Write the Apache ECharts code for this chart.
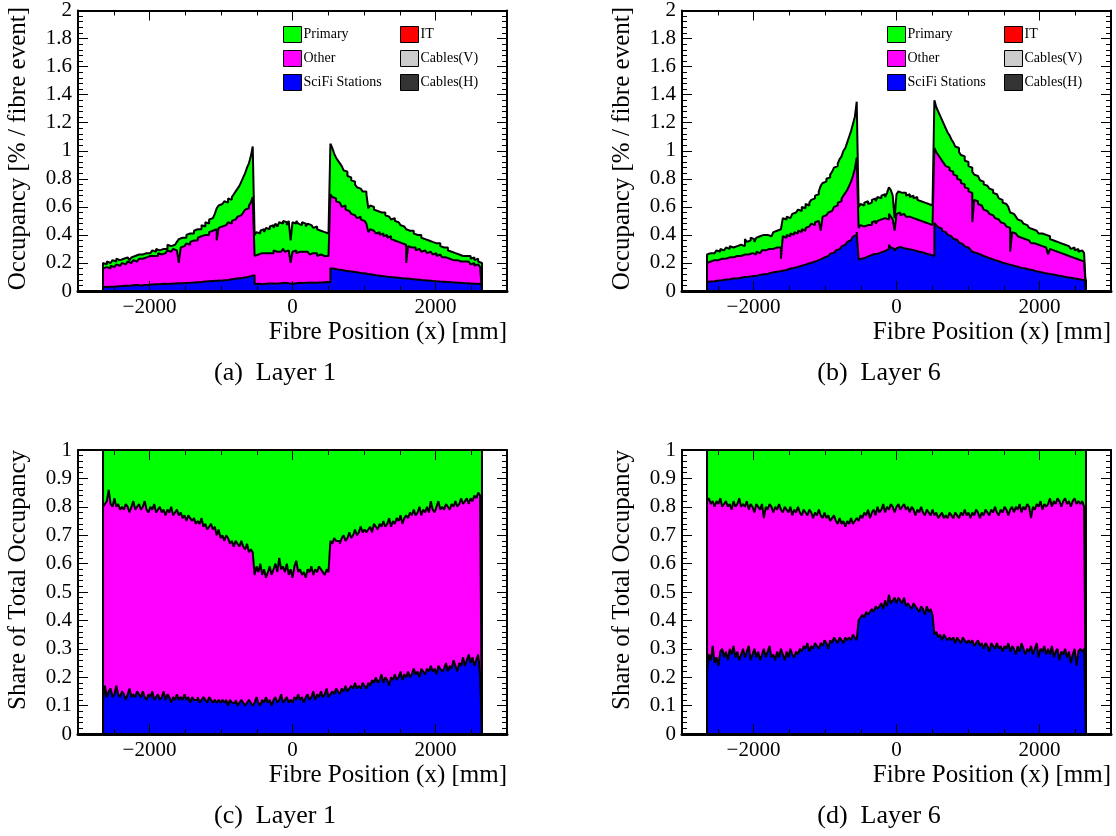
<!DOCTYPE html>
<html>
<head>
<meta charset="utf-8">
<title>Fibre occupancy by source</title>
<script src="https://cdn.jsdelivr.net/npm/echarts@6/dist/echarts.min.js"></script>
<style>
  html, body { margin: 0; padding: 0; background: #fff; }
  #chart { width: 1116px; height: 836px; }
</style>
</head>
<body>
<div id="chart"></div>
<script>
// histograms: 200 bins of 26.5 mm, from -2650 mm to +2650 mm
const binLow = -2650
const binHigh = 2650
const binWidth = 26.5

const xMajorTicks = [-2000, 0, 2000]

// stacked levels (top edge of each band)
// (a) Layer 1, occupancy [% / fibre event]
const occL1SciFi = [
  0.030, 0.028, 0.031, 0.030, 0.032, 0.031, 0.034, 0.033, 0.035, 0.036, 0.035, 0.037, 0.039, 0.038, 0.040, 0.041, 0.040, 0.042, 0.041, 0.040,
  0.042, 0.043, 0.045, 0.044, 0.044, 0.046, 0.046, 0.048, 0.050, 0.049, 0.049, 0.051, 0.051, 0.050, 0.050, 0.052, 0.055, 0.054, 0.054, 0.056,
  0.056, 0.055, 0.055, 0.057, 0.060, 0.058, 0.059, 0.060, 0.061, 0.063, 0.065, 0.064, 0.066, 0.067, 0.070, 0.069, 0.069, 0.071, 0.072, 0.073,
  0.075, 0.074, 0.076, 0.077, 0.080, 0.079, 0.084, 0.083, 0.086, 0.087, 0.090, 0.091, 0.095, 0.094, 0.100, 0.099, 0.104, 0.106, 0.110, 0.112,
  0.050, 0.052, 0.046, 0.048, 0.050, 0.051, 0.052, 0.054, 0.055, 0.053, 0.050, 0.052, 0.056, 0.055, 0.060, 0.058, 0.055, 0.056, 0.050, 0.052,
  0.055, 0.056, 0.060, 0.058, 0.056, 0.057, 0.060, 0.059, 0.061, 0.060, 0.056, 0.058, 0.060, 0.061, 0.062, 0.060, 0.065, 0.064, 0.060, 0.062,
  0.162, 0.158, 0.155, 0.153, 0.150, 0.149, 0.146, 0.144, 0.140, 0.141, 0.136, 0.137, 0.134, 0.133, 0.130, 0.129, 0.125, 0.126, 0.120, 0.121,
  0.115, 0.117, 0.110, 0.112, 0.111, 0.109, 0.105, 0.106, 0.104, 0.102, 0.100, 0.099, 0.096, 0.097, 0.095, 0.094, 0.090, 0.091, 0.091, 0.089,
  0.085, 0.087, 0.086, 0.084, 0.080, 0.082, 0.081, 0.079, 0.075, 0.077, 0.076, 0.074, 0.070, 0.072, 0.071, 0.069, 0.066, 0.067, 0.065, 0.066,
  0.065, 0.064, 0.061, 0.062, 0.060, 0.061, 0.060, 0.059, 0.056, 0.057, 0.055, 0.056, 0.055, 0.054, 0.051, 0.052, 0.050, 0.051, 0.050, 0.048
]
const occL1Other = [
  0.16, 0.17, 0.17, 0.16, 0.18, 0.17, 0.18, 0.19, 0.18, 0.19, 0.20, 0.19, 0.20, 0.21, 0.20, 0.21, 0.22, 0.21, 0.22, 0.23,
  0.23, 0.22, 0.24, 0.23, 0.25, 0.24, 0.25, 0.26, 0.25, 0.27, 0.26, 0.27, 0.27, 0.28, 0.29, 0.28, 0.29, 0.30, 0.29, 0.30,
  0.20, 0.31, 0.32, 0.33, 0.34, 0.33, 0.35, 0.36, 0.37, 0.36, 0.38, 0.39, 0.38, 0.40, 0.41, 0.40, 0.42, 0.43, 0.42, 0.44,
  0.36, 0.45, 0.46, 0.45, 0.47, 0.48, 0.49, 0.48, 0.50, 0.51, 0.52, 0.53, 0.54, 0.55, 0.56, 0.58, 0.59, 0.61, 0.63, 0.67,
  0.25, 0.26, 0.25, 0.27, 0.26, 0.27, 0.28, 0.27, 0.28, 0.27, 0.29, 0.28, 0.29, 0.28, 0.29, 0.30, 0.28, 0.29, 0.28, 0.20,
  0.28, 0.29, 0.27, 0.28, 0.29, 0.28, 0.27, 0.28, 0.27, 0.26, 0.27, 0.26, 0.27, 0.25, 0.26, 0.25, 0.25, 0.24, 0.25, 0.24,
  0.69, 0.67, 0.66, 0.64, 0.63, 0.62, 0.60, 0.61, 0.58, 0.57, 0.56, 0.55, 0.54, 0.55, 0.52, 0.53, 0.51, 0.50, 0.49, 0.48,
  0.42, 0.44, 0.43, 0.42, 0.41, 0.42, 0.40, 0.41, 0.39, 0.40, 0.38, 0.39, 0.37, 0.36, 0.36, 0.35, 0.35, 0.34, 0.34, 0.33,
  0.20, 0.32, 0.31, 0.30, 0.31, 0.29, 0.30, 0.29, 0.28, 0.29, 0.28, 0.27, 0.28, 0.27, 0.26, 0.27, 0.25, 0.26, 0.25, 0.24,
  0.24, 0.25, 0.23, 0.24, 0.22, 0.23, 0.22, 0.23, 0.21, 0.22, 0.21, 0.20, 0.21, 0.20, 0.19, 0.20, 0.18, 0.19, 0.18, 0.17
]
const occL1Primary = [
  0.20, 0.19, 0.21, 0.20, 0.21, 0.22, 0.21, 0.23, 0.22, 0.21, 0.23, 0.22, 0.24, 0.23, 0.22, 0.24, 0.25, 0.24, 0.26, 0.25,
  0.26, 0.25, 0.27, 0.28, 0.27, 0.26, 0.29, 0.28, 0.30, 0.29, 0.28, 0.30, 0.31, 0.30, 0.33, 0.32, 0.31, 0.33, 0.34, 0.35,
  0.37, 0.38, 0.39, 0.38, 0.40, 0.41, 0.42, 0.41, 0.43, 0.44, 0.45, 0.44, 0.47, 0.46, 0.49, 0.48, 0.51, 0.52, 0.53, 0.55,
  0.59, 0.61, 0.62, 0.61, 0.64, 0.63, 0.66, 0.65, 0.67, 0.69, 0.71, 0.73, 0.75, 0.78, 0.81, 0.84, 0.88, 0.91, 0.96, 1.03,
  0.40, 0.42, 0.41, 0.43, 0.44, 0.42, 0.45, 0.44, 0.46, 0.47, 0.45, 0.48, 0.46, 0.49, 0.48, 0.50, 0.49, 0.47, 0.50, 0.36,
  0.49, 0.48, 0.50, 0.48, 0.47, 0.49, 0.48, 0.46, 0.48, 0.47, 0.46, 0.45, 0.46, 0.44, 0.43, 0.44, 0.42, 0.43, 0.41, 0.40,
  1.05, 1.02, 0.98, 0.95, 0.93, 0.91, 0.89, 0.86, 0.85, 0.82, 0.81, 0.79, 0.78, 0.76, 0.74, 0.73, 0.73, 0.71, 0.71, 0.69,
  0.59, 0.61, 0.60, 0.58, 0.57, 0.58, 0.56, 0.55, 0.56, 0.54, 0.53, 0.52, 0.51, 0.52, 0.50, 0.49, 0.48, 0.47, 0.46, 0.45,
  0.44, 0.43, 0.42, 0.43, 0.41, 0.40, 0.39, 0.40, 0.38, 0.37, 0.37, 0.36, 0.36, 0.35, 0.35, 0.34, 0.33, 0.34, 0.32, 0.31,
  0.30, 0.31, 0.29, 0.28, 0.29, 0.27, 0.28, 0.26, 0.27, 0.25, 0.26, 0.25, 0.24, 0.25, 0.23, 0.24, 0.22, 0.23, 0.21, 0.20
]

// (b) Layer 6, occupancy [% / fibre event]
const occL6SciFi = [
  0.065, 0.068, 0.070, 0.069, 0.073, 0.075, 0.078, 0.077, 0.080, 0.082, 0.085, 0.084, 0.088, 0.090, 0.091, 0.089, 0.093, 0.095, 0.098, 0.100,
  0.100, 0.102, 0.104, 0.106, 0.110, 0.108, 0.113, 0.115, 0.118, 0.120, 0.124, 0.122, 0.128, 0.130, 0.133, 0.135, 0.138, 0.140, 0.143, 0.145,
  0.152, 0.150, 0.158, 0.160, 0.163, 0.165, 0.168, 0.172, 0.175, 0.180, 0.185, 0.188, 0.193, 0.198, 0.203, 0.205, 0.210, 0.215, 0.222, 0.226,
  0.235, 0.240, 0.246, 0.250, 0.258, 0.265, 0.272, 0.280, 0.290, 0.298, 0.310, 0.318, 0.330, 0.338, 0.350, 0.362, 0.375, 0.388, 0.400, 0.420,
  0.225, 0.232, 0.238, 0.240, 0.248, 0.252, 0.258, 0.262, 0.268, 0.265, 0.272, 0.275, 0.280, 0.285, 0.295, 0.300, 0.330, 0.310, 0.300, 0.285,
  0.305, 0.315, 0.310, 0.305, 0.302, 0.300, 0.296, 0.295, 0.290, 0.288, 0.282, 0.280, 0.278, 0.275, 0.270, 0.266, 0.262, 0.258, 0.252, 0.250,
  0.485, 0.470, 0.455, 0.445, 0.430, 0.420, 0.410, 0.400, 0.390, 0.382, 0.372, 0.365, 0.352, 0.345, 0.335, 0.328, 0.318, 0.310, 0.302, 0.295,
  0.280, 0.272, 0.265, 0.262, 0.255, 0.250, 0.245, 0.240, 0.235, 0.230, 0.225, 0.220, 0.215, 0.212, 0.206, 0.202, 0.198, 0.195, 0.192, 0.188,
  0.182, 0.180, 0.176, 0.173, 0.168, 0.165, 0.162, 0.160, 0.157, 0.154, 0.152, 0.149, 0.143, 0.140, 0.137, 0.135, 0.132, 0.129, 0.126, 0.124,
  0.121, 0.119, 0.116, 0.114, 0.111, 0.108, 0.106, 0.103, 0.100, 0.098, 0.096, 0.094, 0.091, 0.089, 0.087, 0.085, 0.083, 0.081, 0.080, 0.078
]
const occL6Other = [
  0.20, 0.21, 0.21, 0.22, 0.21, 0.22, 0.22, 0.23, 0.22, 0.23, 0.23, 0.24, 0.23, 0.24, 0.24, 0.25, 0.24, 0.25, 0.25, 0.26,
  0.25, 0.26, 0.26, 0.27, 0.27, 0.26, 0.28, 0.27, 0.28, 0.29, 0.29, 0.28, 0.30, 0.29, 0.30, 0.31, 0.31, 0.30, 0.31, 0.23,
  0.39, 0.38, 0.40, 0.39, 0.41, 0.40, 0.42, 0.41, 0.43, 0.42, 0.44, 0.43, 0.45, 0.46, 0.46, 0.48, 0.47, 0.49, 0.50, 0.51,
  0.43, 0.53, 0.54, 0.55, 0.56, 0.57, 0.58, 0.60, 0.61, 0.63, 0.64, 0.66, 0.68, 0.70, 0.72, 0.75, 0.78, 0.82, 0.87, 0.95,
  0.45, 0.47, 0.46, 0.45, 0.47, 0.48, 0.47, 0.49, 0.50, 0.48, 0.50, 0.51, 0.50, 0.52, 0.53, 0.51, 0.55, 0.53, 0.51, 0.43,
  0.55, 0.56, 0.54, 0.55, 0.54, 0.53, 0.53, 0.52, 0.52, 0.51, 0.51, 0.50, 0.50, 0.49, 0.49, 0.48, 0.48, 0.47, 0.47, 0.46,
  1.02, 0.99, 0.97, 0.95, 0.93, 0.91, 0.89, 0.88, 0.86, 0.85, 0.83, 0.82, 0.80, 0.79, 0.77, 0.76, 0.74, 0.73, 0.71, 0.70,
  0.49, 0.65, 0.64, 0.62, 0.61, 0.60, 0.58, 0.57, 0.56, 0.55, 0.54, 0.53, 0.52, 0.51, 0.50, 0.49, 0.48, 0.47, 0.46, 0.45,
  0.28, 0.42, 0.41, 0.40, 0.39, 0.38, 0.38, 0.37, 0.36, 0.36, 0.35, 0.34, 0.34, 0.33, 0.33, 0.32, 0.32, 0.31, 0.31, 0.30,
  0.26, 0.30, 0.29, 0.29, 0.28, 0.28, 0.27, 0.27, 0.26, 0.26, 0.25, 0.25, 0.24, 0.24, 0.23, 0.23, 0.22, 0.22, 0.21, 0.20
]
const occL6Primary = [
  0.26, 0.27, 0.28, 0.27, 0.28, 0.29, 0.28, 0.30, 0.29, 0.30, 0.31, 0.30, 0.32, 0.31, 0.30, 0.32, 0.31, 0.33, 0.34, 0.32,
  0.37, 0.35, 0.36, 0.38, 0.37, 0.35, 0.38, 0.39, 0.38, 0.40, 0.39, 0.40, 0.41, 0.39, 0.40, 0.42, 0.43, 0.42, 0.44, 0.45,
  0.52, 0.51, 0.53, 0.52, 0.53, 0.55, 0.56, 0.55, 0.58, 0.57, 0.60, 0.59, 0.62, 0.61, 0.63, 0.65, 0.66, 0.68, 0.69, 0.71,
  0.75, 0.77, 0.78, 0.80, 0.81, 0.83, 0.85, 0.88, 0.89, 0.91, 0.94, 0.96, 1.00, 1.02, 1.06, 1.10, 1.14, 1.19, 1.24, 1.35,
  0.60, 0.62, 0.61, 0.63, 0.64, 0.62, 0.63, 0.65, 0.66, 0.64, 0.67, 0.66, 0.68, 0.69, 0.67, 0.70, 0.74, 0.72, 0.68, 0.52,
  0.69, 0.71, 0.70, 0.69, 0.70, 0.68, 0.69, 0.67, 0.68, 0.66, 0.67, 0.65, 0.64, 0.65, 0.63, 0.64, 0.62, 0.61, 0.61, 0.60,
  1.36, 1.31, 1.28, 1.25, 1.22, 1.19, 1.16, 1.13, 1.11, 1.08, 1.06, 1.03, 1.02, 0.99, 0.97, 0.96, 0.93, 0.92, 0.89, 0.88,
  0.85, 0.83, 0.82, 0.81, 0.79, 0.78, 0.76, 0.75, 0.74, 0.73, 0.72, 0.70, 0.69, 0.68, 0.66, 0.65, 0.63, 0.62, 0.61, 0.60,
  0.56, 0.55, 0.54, 0.53, 0.51, 0.50, 0.49, 0.48, 0.47, 0.46, 0.45, 0.44, 0.44, 0.43, 0.42, 0.41, 0.41, 0.40, 0.40, 0.39,
  0.39, 0.37, 0.36, 0.37, 0.35, 0.34, 0.34, 0.33, 0.33, 0.32, 0.32, 0.31, 0.30, 0.31, 0.29, 0.30, 0.28, 0.29, 0.29, 0.27
]

// (c) Layer 1, share of total occupancy (stacked levels; Primary fills up to 1)
const shareL1SciFi = [
  0.12, 0.17, 0.13, 0.15, 0.16, 0.13, 0.14, 0.17, 0.14, 0.13, 0.15, 0.14, 0.12, 0.14, 0.16, 0.13, 0.14, 0.13, 0.15, 0.14,
  0.13, 0.15, 0.13, 0.12, 0.14, 0.13, 0.15, 0.12, 0.13, 0.14, 0.12, 0.13, 0.15, 0.12, 0.14, 0.13, 0.11, 0.13, 0.12, 0.14,
  0.12, 0.13, 0.12, 0.14, 0.12, 0.13, 0.11, 0.13, 0.12, 0.12, 0.13, 0.11, 0.12, 0.13, 0.12, 0.11, 0.13, 0.12, 0.11, 0.12,
  0.11, 0.12, 0.11, 0.12, 0.11, 0.12, 0.10, 0.12, 0.11, 0.11, 0.12, 0.10, 0.11, 0.12, 0.11, 0.10, 0.11, 0.12, 0.11, 0.10,
  0.11, 0.13, 0.11, 0.10, 0.12, 0.11, 0.13, 0.11, 0.12, 0.10, 0.12, 0.13, 0.11, 0.12, 0.14, 0.11, 0.12, 0.13, 0.11, 0.12,
  0.11, 0.13, 0.12, 0.14, 0.12, 0.13, 0.11, 0.13, 0.14, 0.12, 0.13, 0.15, 0.12, 0.14, 0.13, 0.15, 0.13, 0.14, 0.16, 0.13,
  0.14, 0.15, 0.14, 0.16, 0.15, 0.14, 0.16, 0.15, 0.17, 0.15, 0.16, 0.17, 0.16, 0.18, 0.16, 0.17, 0.16, 0.18, 0.17, 0.16,
  0.18, 0.17, 0.19, 0.18, 0.20, 0.18, 0.19, 0.21, 0.18, 0.20, 0.19, 0.17, 0.20, 0.19, 0.21, 0.19, 0.20, 0.22, 0.19, 0.21,
  0.20, 0.22, 0.20, 0.21, 0.23, 0.21, 0.22, 0.20, 0.23, 0.22, 0.21, 0.23, 0.22, 0.24, 0.22, 0.23, 0.21, 0.24, 0.23, 0.22,
  0.23, 0.25, 0.22, 0.24, 0.23, 0.26, 0.24, 0.22, 0.25, 0.24, 0.27, 0.24, 0.26, 0.28, 0.25, 0.27, 0.24, 0.26, 0.28, 0.21
]
const shareL1Other = [
  0.80, 0.81, 0.82, 0.86, 0.81, 0.80, 0.83, 0.80, 0.81, 0.79, 0.80, 0.79, 0.81, 0.80, 0.78, 0.80, 0.82, 0.79, 0.80, 0.81,
  0.79, 0.80, 0.82, 0.79, 0.78, 0.80, 0.79, 0.81, 0.78, 0.79, 0.80, 0.78, 0.79, 0.77, 0.79, 0.78, 0.80, 0.77, 0.78, 0.79,
  0.77, 0.78, 0.76, 0.77, 0.75, 0.77, 0.76, 0.75, 0.76, 0.74, 0.75, 0.74, 0.76, 0.73, 0.74, 0.72, 0.73, 0.74, 0.72, 0.73,
  0.70, 0.72, 0.69, 0.70, 0.68, 0.70, 0.69, 0.67, 0.68, 0.66, 0.68, 0.67, 0.66, 0.68, 0.66, 0.65, 0.67, 0.64, 0.65, 0.64,
  0.56, 0.59, 0.57, 0.60, 0.56, 0.58, 0.55, 0.57, 0.59, 0.56, 0.58, 0.60, 0.57, 0.62, 0.58, 0.59, 0.57, 0.60, 0.56, 0.58,
  0.55, 0.59, 0.61, 0.57, 0.58, 0.56, 0.57, 0.55, 0.58, 0.57, 0.59, 0.56, 0.58, 0.57, 0.59, 0.58, 0.57, 0.56, 0.58, 0.57,
  0.68, 0.67, 0.69, 0.68, 0.68, 0.67, 0.69, 0.70, 0.68, 0.69, 0.71, 0.69, 0.70, 0.72, 0.70, 0.71, 0.73, 0.71, 0.72, 0.71,
  0.72, 0.73, 0.71, 0.74, 0.73, 0.72, 0.74, 0.73, 0.75, 0.73, 0.74, 0.76, 0.73, 0.75, 0.74, 0.76, 0.75, 0.77, 0.74, 0.76,
  0.77, 0.76, 0.78, 0.77, 0.79, 0.77, 0.78, 0.80, 0.77, 0.79, 0.78, 0.80, 0.78, 0.82, 0.79, 0.78, 0.80, 0.82, 0.79, 0.80,
  0.79, 0.81, 0.80, 0.79, 0.81, 0.80, 0.82, 0.80, 0.81, 0.83, 0.81, 0.82, 0.83, 0.81, 0.83, 0.82, 0.84, 0.83, 0.85, 0.84
]

// (d) Layer 6, share of total occupancy
const shareL6SciFi = [
  0.22, 0.28, 0.26, 0.31, 0.25, 0.27, 0.24, 0.29, 0.30, 0.27, 0.29, 0.26, 0.30, 0.28, 0.31, 0.27, 0.29, 0.26, 0.28, 0.30,
  0.27, 0.29, 0.31, 0.26, 0.28, 0.30, 0.27, 0.29, 0.26, 0.28, 0.30, 0.27, 0.29, 0.31, 0.27, 0.28, 0.26, 0.29, 0.27, 0.30,
  0.28, 0.26, 0.29, 0.27, 0.30, 0.28, 0.27, 0.29, 0.28, 0.30, 0.29, 0.31, 0.30, 0.32, 0.29, 0.31, 0.30, 0.32, 0.31, 0.30,
  0.32, 0.31, 0.33, 0.32, 0.30, 0.33, 0.32, 0.34, 0.33, 0.32, 0.34, 0.33, 0.32, 0.34, 0.33, 0.34, 0.33, 0.35, 0.34, 0.33,
  0.40, 0.41, 0.42, 0.41, 0.43, 0.42, 0.43, 0.44, 0.43, 0.45, 0.44, 0.45, 0.46, 0.44, 0.47, 0.45, 0.49, 0.46, 0.47, 0.48,
  0.46, 0.48, 0.47, 0.46, 0.48, 0.45, 0.46, 0.45, 0.44, 0.46, 0.45, 0.44, 0.43, 0.45, 0.44, 0.42, 0.45, 0.43, 0.44, 0.42,
  0.35, 0.36, 0.34, 0.35, 0.33, 0.35, 0.34, 0.33, 0.34, 0.33, 0.34, 0.32, 0.34, 0.33, 0.32, 0.34, 0.33, 0.32, 0.33, 0.32,
  0.33, 0.31, 0.32, 0.33, 0.31, 0.32, 0.30, 0.32, 0.31, 0.29, 0.32, 0.31, 0.30, 0.32, 0.30, 0.31, 0.29, 0.31, 0.30, 0.32,
  0.29, 0.31, 0.30, 0.28, 0.31, 0.29, 0.32, 0.30, 0.28, 0.30, 0.29, 0.31, 0.28, 0.30, 0.32, 0.27, 0.30, 0.29, 0.31, 0.28,
  0.30, 0.28, 0.31, 0.27, 0.29, 0.30, 0.26, 0.29, 0.28, 0.30, 0.27, 0.29, 0.25, 0.28, 0.30, 0.24, 0.29, 0.30, 0.29, 0.30
]
const shareL6Other = [
  0.82, 0.83, 0.81, 0.82, 0.80, 0.82, 0.81, 0.83, 0.80, 0.81, 0.82, 0.80, 0.81, 0.79, 0.82, 0.80, 0.81, 0.83, 0.80, 0.81,
  0.80, 0.82, 0.79, 0.81, 0.80, 0.78, 0.81, 0.80, 0.79, 0.81, 0.76, 0.80, 0.79, 0.81, 0.80, 0.78, 0.80, 0.79, 0.81, 0.79,
  0.78, 0.80, 0.79, 0.78, 0.80, 0.77, 0.79, 0.78, 0.80, 0.78, 0.77, 0.79, 0.78, 0.77, 0.79, 0.78, 0.76, 0.78, 0.77, 0.79,
  0.77, 0.76, 0.78, 0.76, 0.77, 0.75, 0.76, 0.77, 0.75, 0.74, 0.76, 0.74, 0.75, 0.73, 0.75, 0.74, 0.76, 0.74, 0.75, 0.76,
  0.75, 0.77, 0.76, 0.78, 0.77, 0.79, 0.76, 0.78, 0.79, 0.77, 0.80, 0.78, 0.79, 0.81, 0.78, 0.80, 0.79, 0.81, 0.80, 0.78,
  0.80, 0.81, 0.79, 0.80, 0.81, 0.79, 0.80, 0.78, 0.80, 0.79, 0.77, 0.79, 0.78, 0.80, 0.78, 0.77, 0.79, 0.78, 0.77, 0.79,
  0.77, 0.78, 0.76, 0.77, 0.78, 0.76, 0.77, 0.76, 0.78, 0.77, 0.76, 0.78, 0.77, 0.76, 0.78, 0.77, 0.79, 0.77, 0.78, 0.76,
  0.78, 0.77, 0.79, 0.78, 0.76, 0.78, 0.77, 0.79, 0.78, 0.77, 0.79, 0.78, 0.80, 0.78, 0.77, 0.79, 0.78, 0.80, 0.79, 0.77,
  0.79, 0.80, 0.78, 0.80, 0.79, 0.81, 0.78, 0.80, 0.79, 0.81, 0.80, 0.76, 0.80, 0.79, 0.81, 0.80, 0.82, 0.79, 0.81, 0.80,
  0.81, 0.83, 0.80, 0.82, 0.81, 0.83, 0.82, 0.80, 0.82, 0.83, 0.81, 0.82, 0.80, 0.82, 0.83, 0.81, 0.82, 0.81, 0.82, 0.80
]
const shareTotal = 1

const colors = {
  'Primary': '#00ff00',
  'Other': '#ff00ff',
  'SciFi Stations': '#0000ff',
  'IT': '#ff0000',
  'Cables(V)': '#cccccc',
  'Cables(H)': '#333333'
}

const FONT = 'Liberation Serif'
const GRIDS = [
  { left: 78, top: 7 },
  { left: 682, top: 7 },
  { left: 78, top: 450 },
  { left: 682, top: 450 }
]
const GW = 429
const GH = 284

// step outline of a histogram, closed down to zero at both ends
function histPoints(values) {
  const edge = i => binLow + i * binWidth
  const pts = [[edge(0), 0]]
  values.forEach((v, i) => pts.push([edge(i), v]))
  pts.push([edge(values.length), values[values.length - 1]])
  pts.push([edge(values.length), 0])
  return pts
}

const fullShare = [[binLow, 0], [binLow, shareTotal], [binHigh, shareTotal], [binHigh, 0]]

function band(name, data, g) {
  return {
    name,
    type: 'line',
    step: 'end',
    xAxisIndex: g * 4,
    yAxisIndex: g * 2,
    data,
    symbol: 'none',
    silent: true,
    lineStyle: { color: '#000', width: 2 },
    itemStyle: { color: colors[name] },
    areaStyle: { color: colors[name], opacity: 1 }
  }
}

const fmtX = v => (v < 0 ? '\u2212' + Math.abs(v) : String(v))

const xAxes = []
const yAxes = []
GRIDS.forEach((_, g) => {
  const base = {
    gridIndex: g, type: 'value', min: -3000, max: 3000,
    splitLine: { show: false }, z: 10
  }
  xAxes.push({
    ...base, position: 'bottom', interval: 500,
    axisLine: { show: true, onZero: false, lineStyle: { color: '#000', width: 3 } },
    axisTick: { inside: true, length: 5, lineStyle: { color: '#000', width: 1 } },
    axisLabel: { show: false }
  })
  xAxes.push({
    ...base, position: 'bottom',
    axisLine: { show: false, onZero: false },
    axisTick: { inside: true, length: 10, customValues: xMajorTicks, lineStyle: { color: '#000', width: 1 } },
    axisLabel: {
      customValues: xMajorTicks, formatter: fmtX, margin: 6,
      fontFamily: FONT, fontSize: 21, color: '#000'
    }
  })
  xAxes.push({
    ...base, position: 'top', interval: 500,
    axisLine: { show: true, onZero: false, lineStyle: { color: '#000', width: 2 } },
    axisTick: { inside: true, length: 5, lineStyle: { color: '#000', width: 1 } },
    axisLabel: { show: false }
  })
  xAxes.push({
    ...base, position: 'top',
    axisLine: { show: false, onZero: false },
    axisTick: { inside: true, length: 10, customValues: xMajorTicks, lineStyle: { color: '#000', width: 1 } },
    axisLabel: { show: false }
  })

  const isShare = g >= 2
  const yBase = {
    gridIndex: g, type: 'value', min: 0,
    max: isShare ? 1 : 2, interval: isShare ? 0.1 : 0.2,
    splitLine: { show: false }, z: 10,
    axisLine: { show: true, onZero: false, lineStyle: { color: '#000', width: 2 } },
    axisTick: { inside: true, length: 10, lineStyle: { color: '#000', width: 1 } },
    minorTick: { show: true, splitNumber: 5, length: 5, lineStyle: { color: '#000', width: 1 } }
  }
  yAxes.push({
    ...yBase, position: 'left',
    axisLabel: { margin: 6, fontFamily: FONT, fontSize: 21, color: '#000' }
  })
  yAxes.push({ ...yBase, position: 'right', axisLabel: { show: false } })
})

const series = [
  band('Primary', histPoints(occL1Primary), 0),
  band('Other', histPoints(occL1Other), 0),
  band('SciFi Stations', histPoints(occL1SciFi), 0),
  band('Primary', histPoints(occL6Primary), 1),
  band('Other', histPoints(occL6Other), 1),
  band('SciFi Stations', histPoints(occL6SciFi), 1),
  band('Primary', fullShare, 2),
  band('Other', histPoints(shareL1Other), 2),
  band('SciFi Stations', histPoints(shareL1SciFi), 2),
  band('Primary', fullShare, 3),
  band('Other', histPoints(shareL6Other), 3),
  band('SciFi Stations', histPoints(shareL6SciFi), 3),
  // listed in the legend, no visible contribution
  band('IT', [], 0),
  band('Cables(V)', [], 0),
  band('Cables(H)', [], 0)
]

function legendCol(names, left) {
  return {
    orient: 'vertical', left, top: 21, itemWidth: 18, itemHeight: 16, itemGap: 7,
    icon: 'rect', selectedMode: false,
    textStyle: { fontFamily: FONT, fontSize: 14, color: '#000', padding: [0, 0, 0, -3] },
    data: names.map(n => ({
      name: n,
      itemStyle: { color: colors[n], borderColor: '#000', borderWidth: 1 }
    }))
  }
}

const legends = []
;[0, 1].forEach(g => {
  legends.push(legendCol(['Primary', 'Other', 'SciFi Stations'], GRIDS[g].left + 200))
  legends.push(legendCol(['IT', 'Cables(V)', 'Cables(H)'], GRIDS[g].left + 317))
})

const texts = []
const captions = ['(a)  Layer 1', '(b)  Layer 6', '(c)  Layer 1', '(d)  Layer 6']
GRIDS.forEach((gr, g) => {
  texts.push({
    type: 'text', x: gr.left + GW, y: gr.top + GH + 41,
    style: { text: 'Fibre Position (x) [mm]', fontFamily: FONT, fontSize: 25, fill: '#000', align: 'right', verticalAlign: 'middle' }
  })
  texts.push({
    type: 'text', x: gr.left - 60, y: gr.top, rotation: Math.PI / 2,
    style: {
      text: g < 2 ? 'Occupancy [% / fibre event]' : 'Share of Total Occupancy',
      fontFamily: FONT, fontSize: 25, fill: '#000', align: 'right', verticalAlign: 'middle'
    }
  })
  texts.push({
    type: 'text', x: gr.left + 197, y: gr.top + GH + 82,
    style: { text: captions[g], fontFamily: FONT, fontSize: 26, fill: '#000', align: 'center', verticalAlign: 'middle' }
  })
})

const chart = echarts.init(document.getElementById('chart'))
chart.setOption({
  animation: false,
  backgroundColor: '#fff',
  grid: GRIDS.map(gr => ({ left: gr.left, top: gr.top, width: GW, height: GH })),
  xAxis: xAxes,
  yAxis: yAxes,
  legend: legends,
  series,
  graphic: texts
})
</script>
</body>
</html>
